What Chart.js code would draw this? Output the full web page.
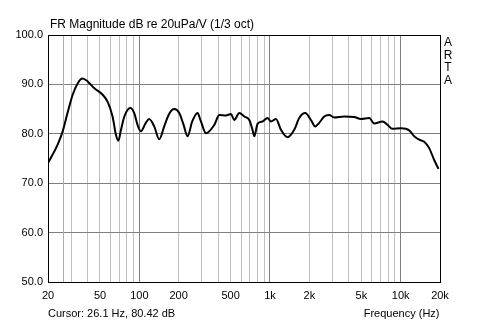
<!DOCTYPE html>
<html>
<head>
<meta charset="utf-8">
<title>FR Magnitude</title>
<script src="https://cdn.jsdelivr.net/npm/chart.js@4"></script>
<style>
  html, body { margin: 0; padding: 0; background: #fff; }
  #wrap { width: 488px; height: 324px; }
</style>
</head>
<body>
<div id="wrap"><canvas id="chartFR" width="488" height="324"></canvas></div>
<script>
'use strict';

// Datos de la medición
const freqs = [20, 21.7, 23.7, 25.9, 28.2, 30.9, 33.7, 36.8, 40.2, 45.3, 52.4, 57.1, 62.4, 66.2, 69.1,
  72.4, 76.8, 85.3, 91.4, 96.9, 102.8, 112, 119, 130, 142, 155, 169, 185, 202, 217, 234, 254, 279, 296,
  324, 375, 409, 460, 503, 533, 582, 635, 694, 735, 758, 803, 877, 958, 1017, 1111, 1213, 1362, 1533,
  1674, 1861, 2057, 2218, 2380, 2600, 2840, 3102, 3698, 4413, 4965, 5744, 6275, 7264, 7932, 8664,
  10044, 11625, 12696, 13864, 15142, 16538, 18056, 19478];
const levels = [74.1, 75.8, 77.8, 80.5, 84.2, 87.9, 90.2, 91.2, 90.6, 89.2, 87.9, 86.5, 83.5, 79.8, 78.6,
  80.8, 83.5, 85.2, 84.2, 81.8, 80.5, 82.2, 83.0, 81.5, 78.9, 81.5, 84.0, 85.0, 84.2, 82.0, 79.5, 82.5, 84.2, 82.5,
  80.1, 81.8, 83.8, 83.7, 84.0, 82.8, 84.2, 83.5, 82.8, 80.8, 79.5, 82.0, 82.5, 83.2, 82.5, 83.0, 80.8, 79.3, 80.8,
  83.2, 84.2, 82.8, 81.5, 82.2, 83.5, 83.8, 83.3, 83.5, 83.4, 83.0, 83.2, 82.1, 82.5, 81.8, 81.0,
  81.1, 80.7, 79.5, 78.8, 78.4, 77.1, 74.7, 72.9];

// Ejes
const xTicks = [20, 30, 40, 50, 60, 70, 80, 90, 100, 200, 300, 400, 500, 600, 700, 800, 900,
  1000, 2000, 3000, 4000, 5000, 6000, 7000, 8000, 9000, 10000, 20000];
const xMajor = [100, 1000, 10000];
const xLabels = { 20: '20', 50: '50', 100: '100', 200: '200', 500: '500', 1000: '1k',
  2000: '2k', 5000: '5k', 10000: '10k', 20000: '20k' };
const yTicks = [50, 60, 70, 80, 90, 100];
const cursor = [26.1, 80.42];

const FONT = '"Liberation Sans", Arial, sans-serif';

// Marco, cursor y textos estilo ARTA
const artaPlugin = {
  id: 'arta',
  beforeDatasetsDraw(chart) {
    const { ctx, chartArea: a, scales } = chart;
    const x = Math.round(scales.x.getPixelForValue(cursor[0])) + 0.5;
    ctx.save();
    ctx.strokeStyle = '#c8c000';
    ctx.lineWidth = 1;
    ctx.beginPath();
    ctx.moveTo(x, a.top);
    ctx.lineTo(x, a.bottom);
    ctx.stroke();
    ctx.restore();
  },
  afterDraw(chart) {
    const { ctx, chartArea: a } = chart;
    ctx.save();
    ctx.strokeStyle = '#000';
    ctx.lineWidth = 1;
    ctx.strokeRect(Math.round(a.left) + 0.5, Math.round(a.top) + 0.5,
      Math.round(a.right - a.left), Math.round(a.bottom - a.top));

    ctx.fillStyle = '#000';
    ctx.textBaseline = 'middle';
    ctx.font = '12px ' + FONT;
    ctx.textAlign = 'left';
    ctx.fillText('FR Magnitude dB re 20uPa/V (1/3 oct)', 50, 25);

    ctx.font = '11px ' + FONT;
    ctx.fillText('Cursor: ' + cursor[0].toFixed(1) + ' Hz, ' + cursor[1].toFixed(2) + ' dB', 48, 314);
    ctx.textAlign = 'right';
    ctx.fillText('Frequency (Hz)', 439.5, 314);

    ctx.font = '12px ' + FONT;
    ctx.textAlign = 'center';
    ['A', 'R', 'T', 'A'].forEach((c, i) => ctx.fillText(c, 448, 43 + i * 12.5));
    ctx.restore();
  }
};

new Chart(document.getElementById('chartFR').getContext('2d'), {
  type: 'line',
  data: {
    datasets: [{
      data: freqs.map((f, i) => ({ x: f, y: levels[i] })),
      borderColor: '#000',
      borderWidth: 2,
      pointRadius: 0,
      cubicInterpolationMode: 'monotone',
      fill: false
    }]
  },
  options: {
    responsive: false,
    animation: false,
    layout: { padding: { left: 0, top: 35, right: 48, bottom: 0 } },
    plugins: { legend: { display: false }, tooltip: { enabled: false } },
    scales: {
      x: {
        type: 'logarithmic',
        min: 20,
        max: 20000,
        afterBuildTicks: s => { s.ticks = xTicks.map(v => ({ value: v })); },
        afterFit: s => { s.height = 42; },
        border: { display: false },
        grid: {
          drawTicks: false,
          color: c => xMajor.includes(c.tick.value) ? '#808080' : '#c0c0c0'
        },
        ticks: {
          autoSkip: false,
          maxRotation: 0,
          padding: 7,
          color: '#000',
          font: { family: FONT, size: 11 },
          callback: v => xLabels[v] || ''
        }
      },
      y: {
        min: 50,
        max: 100,
        afterBuildTicks: s => { s.ticks = yTicks.map(v => ({ value: v })); },
        afterFit: s => { s.width = 48; },
        border: { display: false },
        grid: { drawTicks: false, color: '#808080' },
        ticks: {
          padding: 5,
          color: '#000',
          font: { family: FONT, size: 11 },
          callback: v => Number(v).toFixed(1)
        }
      }
    }
  },
  plugins: [artaPlugin]
});
</script>
</body>
</html>
